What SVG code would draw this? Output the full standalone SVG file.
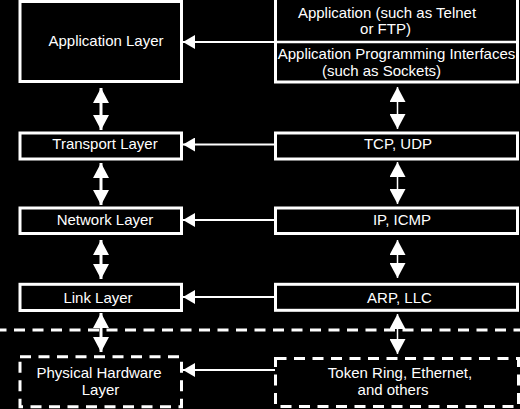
<svg xmlns="http://www.w3.org/2000/svg" width="520" height="409" viewBox="0 0 520 409">
<style>
.box{fill:#000;stroke:#fff;stroke-width:3}
.dbox{fill:#000;stroke:#fff;stroke-width:3;stroke-dasharray:11 7.5}
text{font-family:"Liberation Sans",Arial,sans-serif;font-size:15px;fill:#fff;text-anchor:middle}
.h{stroke:#fff;stroke-width:2;fill:none;marker-end:url(#ha)}
.vl{stroke:#fff;stroke-width:3;fill:none;marker-start:url(#va);marker-end:url(#va)}
.vr{stroke:#fff;stroke-width:1.5;fill:none;marker-start:url(#va);marker-end:url(#va)}
</style>
<defs>
<marker id="ha" markerUnits="userSpaceOnUse" viewBox="0 0 12 14" refX="12" refY="7" markerWidth="12" markerHeight="14" orient="auto"><path d="M0,0 L12,7 L0,14 Z" fill="#fff"/></marker>
<marker id="va" markerUnits="userSpaceOnUse" viewBox="0 0 15 16" refX="15" refY="8" markerWidth="15" markerHeight="16" orient="auto-start-reverse"><path d="M0,0 L15,8 L0,16 Z" fill="#fff"/></marker>
</defs>
<rect width="520" height="409" fill="#000"/>
<g id="divider"><line x1="0" y1="330" x2="520" y2="330" stroke="#fff" stroke-width="3" stroke-dasharray="11 7.5" stroke-dashoffset="4.5"/></g>
<g id="application-layer"><rect class="box" x="20" y="1.5" width="161.5" height="80"/><text x="106" y="46">Application Layer</text></g>
<g id="transport-layer"><rect class="box" x="20" y="133" width="161.5" height="26"/><text x="105" y="149">Transport Layer</text></g>
<g id="network-layer"><rect class="box" x="20" y="208" width="161.5" height="25.5"/><text x="105" y="225">Network Layer</text></g>
<g id="link-layer"><rect class="box" x="20" y="284.3" width="161.5" height="26.2"/><text x="98" y="303">Link Layer</text></g>
<g id="physical-layer"><rect class="dbox" x="20" y="356.7" width="161.5" height="50"/><text x="99" y="378">Physical Hardware</text><text x="100.5" y="395">Layer</text></g>
<g id="application"><rect class="box" x="275.5" y="-2" width="242" height="84"/><line x1="275.5" y1="42" x2="517.5" y2="42" stroke="#fff" stroke-width="2.5"/><text x="387" y="18">Application (such as Telnet</text><text x="385.5" y="34">or FTP)</text><text x="396.5" y="58.5">Application Programming Interfaces</text><text x="381.5" y="76">(such as Sockets)</text></g>
<g id="tcp-udp"><rect class="box" x="275.5" y="133" width="242" height="26"/><text x="398" y="149">TCP, UDP</text></g>
<g id="ip-icmp"><rect class="box" x="275.5" y="208" width="242" height="25.5"/><text x="402" y="225">IP, ICMP</text></g>
<g id="arp-llc"><rect class="box" x="275.5" y="284.3" width="242" height="26"/><text x="399.5" y="303">ARP, LLC</text></g>
<g id="token-ring"><rect class="dbox" x="275.5" y="358.5" width="243" height="48"/><text x="400" y="378">Token Ring, Ethernet,</text><text x="393" y="395">and others</text></g>
<g id="connectors">
<line class="h" x1="275" y1="42" x2="183" y2="42"/>
<line class="h" x1="275" y1="144.5" x2="183" y2="144.5"/>
<line class="h" x1="275" y1="220" x2="183" y2="220"/>
<line class="h" x1="275" y1="297" x2="183" y2="297"/>
<line class="h" x1="275" y1="370" x2="183" y2="370"/>
<line class="vl" x1="101" y1="88" x2="101" y2="130"/>
<line class="vl" x1="101" y1="163" x2="101" y2="205"/>
<line class="vl" x1="101" y1="240" x2="101" y2="279"/>
<line class="vl" x1="101" y1="313" x2="101" y2="352"/>
<line class="vr" x1="397.5" y1="87" x2="397.5" y2="129"/>
<line class="vr" x1="397.5" y1="162" x2="397.5" y2="204"/>
<line class="vr" x1="397.5" y1="240" x2="397.5" y2="278"/>
<line class="vr" x1="397.5" y1="314" x2="397.5" y2="354"/>
</g>
</svg>
